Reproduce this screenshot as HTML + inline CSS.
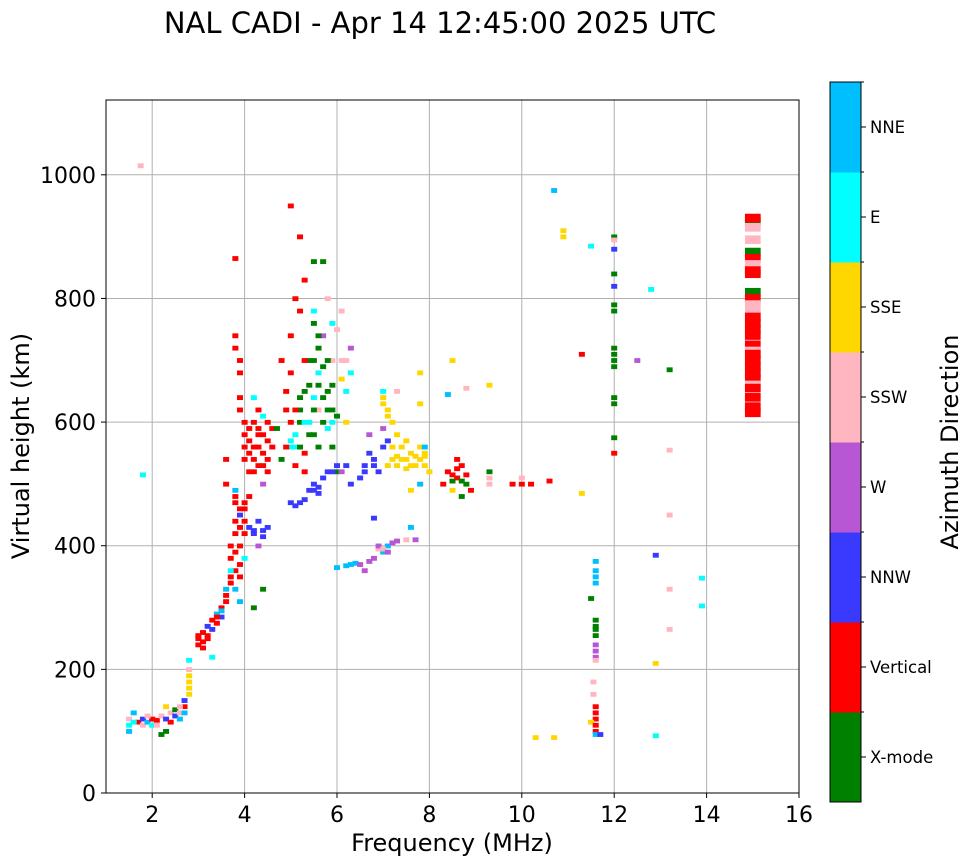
<!DOCTYPE html>
<html><head><meta charset="utf-8"><style>
html,body{margin:0;padding:0;background:#fff;}
svg{display:block;font-family:"DejaVu Sans","Liberation Sans",sans-serif;}
</style></head><body>
<svg id="chart" width="972" height="865" viewBox="0 0 972 865" xmlns="http://www.w3.org/2000/svg">
<rect width="972" height="865" fill="#fff"/>
<text x="440" y="33" font-size="29" text-anchor="middle">NAL CADI - Apr 14 12:45:00 2025 UTC</text>
<g id="grid"></g>
<g id="marks"></g>
<rect x="106" y="100" width="693" height="693" fill="none" stroke="#000" stroke-width="1"/>
<g id="axes"></g>
<text x="452" y="851" font-size="24" text-anchor="middle">Frequency (MHz)</text>
<text transform="translate(29,446) rotate(-90)" font-size="24" text-anchor="middle">Virtual height (km)</text>
<g id="cbar"></g>
<text transform="translate(958,442) rotate(-90)" font-size="24" text-anchor="middle">Azimuth Direction</text>
</svg>
<script>
const categories = ["X-mode","Vertical","NNW","W","SSW","SSE","E","NNE"];
const colors = ["#008000","#ff0000","#3a3aff","#b857d4","#ffb6c1","#ffd700","#00ffff","#00bfff"];
const xTicks = [2,4,6,8,10,12,14,16];
const yTicks = [0,200,400,600,800,1000];
const points = [
[1.5,100,7],[1.5,110,6],[1.5,120,4],[1.6,130,7],[1.7,115,1],[1.8,120,2],[1.8,110,4],[1.9,115,7],[2.0,120,1],[2.0,110,6],[2.1,118,1],[2.2,125,4],[2.2,95,0],[2.3,140,5],[2.3,120,2],[2.4,115,1],[2.4,130,4],[2.5,125,2],[2.5,135,0],[2.6,120,7],[2.6,130,4],[2.7,140,1],[2.7,150,2],[2.8,160,5],[2.8,180,5],[2.8,200,4],[2.8,215,6],[1.75,1015,4],[1.8,515,6],[1.6,115,6],[1.9,125,4],[2.1,110,4],[2.3,100,0],[2.6,140,4],[2.7,130,7],[2.8,170,5],[2.8,190,5],
[3.0,250,1],[3.0,240,1],[3.1,260,1],[3.1,245,1],[3.2,270,2],[3.2,255,1],[3.3,280,1],[3.3,265,2],[3.4,290,7],[3.4,275,1],[3.5,300,1],[3.5,285,2],[3.6,310,1],[3.6,330,7],[3.3,220,6],[3.0,255,1],[3.1,235,1],[3.2,250,1],[3.4,285,1],[3.5,295,7],[3.6,320,1],
[3.7,340,1],[3.7,380,1],[3.8,360,1],[3.8,420,1],[3.8,470,1],[3.9,350,1],[3.9,400,1],[3.9,450,2],[3.8,490,7],[3.7,360,6],[4.0,380,6],[3.9,310,7],[4.0,420,1],[3.8,440,1],[3.9,370,1],[3.7,400,1],[3.8,390,1],[3.9,430,1],[4.0,440,1],[3.7,350,1],[3.8,480,1],[3.9,460,1],[4.0,470,1],[3.8,330,7],
[4.1,430,2],[4.2,420,2],[4.3,440,2],[4.4,415,2],[4.5,430,2],[4.3,400,3],[4.1,520,1],[4.2,540,1],[4.3,560,1],[4.4,580,1],[4.5,600,1],[4.6,560,1],[4.2,600,1],[4.3,530,1],[4.5,520,1],[4.0,560,1],[4.0,600,1],[3.9,640,1],[3.9,700,1],[3.8,720,1],[3.8,740,1],[3.8,865,1],[4.2,640,6],[4.4,610,6],[4.1,480,1],[4.4,500,3],[4.2,300,0],[4.4,330,0],[3.6,540,1],[3.6,500,1],[4.1,570,1],[4.3,590,1],[4.5,540,1],[4.0,460,1],[4.2,560,1],[4.4,550,1],[4.1,590,1],[4.2,520,1],[4.3,580,1],[4.4,530,1],[4.5,570,1],[4.1,550,1],[4.0,580,1],[3.9,620,1],[3.9,680,1],[4.3,620,1],[4.2,425,2],[4.4,425,2],[4.0,540,1],[4.6,590,1],
[4.8,700,1],[4.9,650,1],[5.0,600,1],[5.0,560,6],[5.1,580,6],[5.2,620,0],[5.3,650,0],[5.4,700,0],[5.5,760,0],[5.6,720,0],[5.7,690,0],[5.8,650,0],[5.9,620,0],[5.4,600,6],[5.5,640,6],[5.6,680,6],[5.2,780,1],[5.3,830,1],[5.5,860,0],[5.7,860,0],[5.0,950,1],[5.2,900,1],[5.0,740,1],[5.1,800,1],[4.9,560,1],[5.3,550,1],[5.6,560,0],[5.8,590,6],[5.9,700,4],[6.0,750,4],[6.2,700,4],[6.3,720,3],[6.1,780,4],[6.3,680,6],[6.0,610,0],[5.9,560,0],[5.6,620,4],[5.7,740,3],[6.0,520,0],[4.7,590,0],[4.8,540,0],[5.1,530,1],[5.3,520,1],[5.9,760,6],[5.8,800,4],[6.1,670,5],[6.2,600,5],[5.4,580,0],[5.5,620,0],[5.2,600,0],[5.6,660,0],[5.8,700,0],[5.5,780,6],[5.3,700,1],[5.7,600,0],[5.0,570,6],[5.1,560,6],[5.2,640,0],[5.4,660,0],[5.5,700,0],[5.6,740,0],[5.7,640,0],[5.8,620,0],[5.9,660,0],[5.3,600,6],[5.1,620,1],[5.0,680,1],[4.9,620,1],[5.5,580,0],[5.2,560,0],[6.1,700,4],[6.2,650,6],[5.9,600,6],
[5.0,470,2],[5.1,465,2],[5.2,470,2],[5.3,475,2],[5.4,490,2],[5.5,500,2],[5.6,495,2],[5.7,510,2],[5.8,520,2],[5.9,520,2],[6.0,530,2],[6.1,520,3],[6.2,530,2],[6.3,500,2],[6.5,510,2],[6.6,530,2],[6.7,550,2],[6.8,540,2],[6.9,520,2],[7.0,560,2],[7.1,570,2],[6.7,580,3],[7.0,590,3],[5.5,490,2],[5.6,485,2],[6.6,520,2],[6.8,530,2],
[6.0,365,7],[6.2,368,7],[6.4,372,7],[6.5,370,3],[6.6,360,3],[6.8,380,3],[6.9,395,4],[7.0,390,7],[7.1,400,7],[7.2,405,3],[7.3,408,3],[7.5,410,4],[7.7,410,3],[7.6,430,7],[6.8,445,2],[6.9,400,3],[6.3,370,7],[6.7,375,3],[7.0,395,4],[7.1,390,3],
[7.0,640,5],[7.1,620,5],[7.2,600,5],[7.3,530,5],[7.4,540,5],[7.5,525,5],[7.6,550,5],[7.7,530,5],[7.8,560,5],[7.9,545,5],[7.2,560,5],[7.1,530,5],[7.5,570,5],[7.8,630,5],[7.8,680,5],[7.3,580,5],[7.0,650,6],[7.8,500,7],[7.9,560,7],[8.0,520,5],[7.6,490,5],[7.3,650,4],[7.4,560,5],[7.6,530,5],[7.9,530,5],[7.2,540,5],[7.3,545,5],[7.5,540,5],[7.7,545,5],[7.8,540,5],[7.1,610,5],[7.0,630,5],[7.9,550,5],
[8.3,500,1],[8.4,520,1],[8.5,490,5],[8.6,510,1],[8.7,530,1],[8.8,500,0],[8.9,490,1],[8.6,540,1],[8.7,480,0],[8.5,700,5],[8.4,645,7],[8.8,655,4],[9.3,500,4],[9.3,520,0],[9.3,660,5],[9.8,500,1],[10.0,500,1],[10.2,500,1],[10.0,510,4],[10.6,505,1],[10.7,975,7],[10.9,910,5],[10.9,900,5],[11.3,710,1],[11.3,485,5],[10.3,90,5],[10.7,90,5],[11.5,885,6],[8.5,515,1],[8.6,525,1],[8.7,505,0],[8.8,515,1],[8.5,505,0],[9.3,510,4],
[11.6,360,7],[11.6,340,7],[11.6,375,7],[11.6,270,0],[11.6,255,0],[11.6,240,3],[11.6,220,3],[11.6,215,4],[11.6,140,1],[11.6,120,1],[11.6,100,1],[11.6,95,7],[11.55,180,4],[11.55,160,4],[11.5,115,5],[11.5,315,0],[11.7,95,2],[11.6,130,1],[11.6,110,1],[11.6,350,7],[11.6,265,0],[11.6,280,0],[11.6,230,3],
[12.0,900,0],[12.0,880,2],[12.0,840,0],[12.0,820,2],[12.0,790,0],[12.0,780,0],[12.0,710,0],[12.0,700,0],[12.0,690,0],[12.0,630,0],[12.0,575,0],[12.0,550,1],[12.0,895,4],[12.0,720,0],[12.0,640,0],
[12.5,700,3],[12.8,815,6],[13.2,685,0],[12.9,385,2],[13.2,555,4],[13.2,450,4],[13.2,330,4],[13.2,265,4],[12.9,210,5],[12.9,93,6],[13.9,348,6],[13.9,303,6]
];
const col15Freq = 15.0;
const col15Heights = [925,930,915,895,875,865,855,845,840,810,800,790,780,770,760,750,740,725,715,710,700,690,680,670,660,655,640,625,615];
const col15Colors  = [0,1,4,4,0,1,4,1,1,0,1,4,4,1,1,1,1,1,4,1,1,1,1,1,4,1,1,1,1];

const NS="http://www.w3.org/2000/svg";
const X0=106,X1=799,Y0=793,Y1=100,F0=1,F1=16,H0=0,H1=1121;
function xs(f){return X0+(f-F0)/(F1-F0)*(X1-X0);}
function ys(h){return Y0-(h-H0)/(H1-H0)*(Y0-Y1);}
function mk(tag,attrs,parent){const e=document.createElementNS(NS,tag);for(const k in attrs)e.setAttribute(k,attrs[k]);parent.appendChild(e);return e;}
const grid=document.getElementById('grid'),axes=document.getElementById('axes'),marks=document.getElementById('marks'),cbar=document.getElementById('cbar');
xTicks.forEach(t=>{
  const x=xs(t);
  const g=mk('line',{x1:x,x2:x,y1:Y1,y2:Y0,stroke:'#b0b0b0','stroke-width':1},grid);
  
  
  const tk=mk('line',{x1:x,x2:x,y1:Y0,y2:Y0+5,stroke:'#000'},axes);
  
  
  const tx=mk('text',{x:x,y:Y0+29,'font-size':22,'text-anchor':'middle'},axes);
  tx.textContent=t;
  
  
});
yTicks.forEach(t=>{
  const y=ys(t);
  const g=mk('line',{x1:X0,x2:X1,y1:y,y2:y,stroke:'#b0b0b0','stroke-width':1},grid);
  
  
  const tk=mk('line',{x1:X0-5,x2:X0,y1:y,y2:y,stroke:'#000'},axes);
  
  
  const tx=mk('text',{x:X0-10,y:y+8,'font-size':22,'text-anchor':'end'},axes);
  tx.textContent=t;
  
  
});
const cw=0.13,ch=7;
points.forEach(p=>{
  const x=xs(p[0]-cw/2),w=xs(p[0]+cw/2)-x;
  const y=ys(p[1]+ch/2),h=ys(p[1]-ch/2)-y;
  const r=mk('rect',{x:x,y:y,width:w,height:h+0.5,fill:colors[p[2]]},marks);
  
  
});
col15Heights.forEach((hv,i)=>{
  const x=xs(col15Freq-0.17),w=xs(col15Freq+0.17)-x;
  const y=ys(hv+7),h=ys(hv-7)-y;
  const r=mk('rect',{x:x,y:y,width:w,height:h,fill:colors[col15Colors[i]]},marks);
  
  
});
const CX=830,CW=31,CT=82,CB=802,seg=(CB-CT)/categories.length;
categories.forEach((c,i)=>{
  const yTop=CB-(i+1)*seg;
  const r=mk('rect',{x:CX,y:yTop,width:CW,height:seg+0.5,fill:colors[i]},cbar);
  
  
  const ym=yTop+seg/2;
  const tk=mk('line',{x1:CX+CW,x2:CX+CW+5,y1:ym,y2:ym,stroke:'#000'},cbar);
  
  
  const tx=mk('text',{x:CX+CW+9,y:ym+6,'font-size':16.5},cbar);
  tx.textContent=c;
  
  
  const mt=mk('line',{x1:CX+CW,x2:CX+CW+3,y1:yTop,y2:yTop,stroke:'#000'},cbar);
  
  
});
const cf=mk('rect',{x:CX,y:CT,width:CW,height:CB-CT,fill:'none',stroke:'#000'},cbar);


</script>
</body></html>
